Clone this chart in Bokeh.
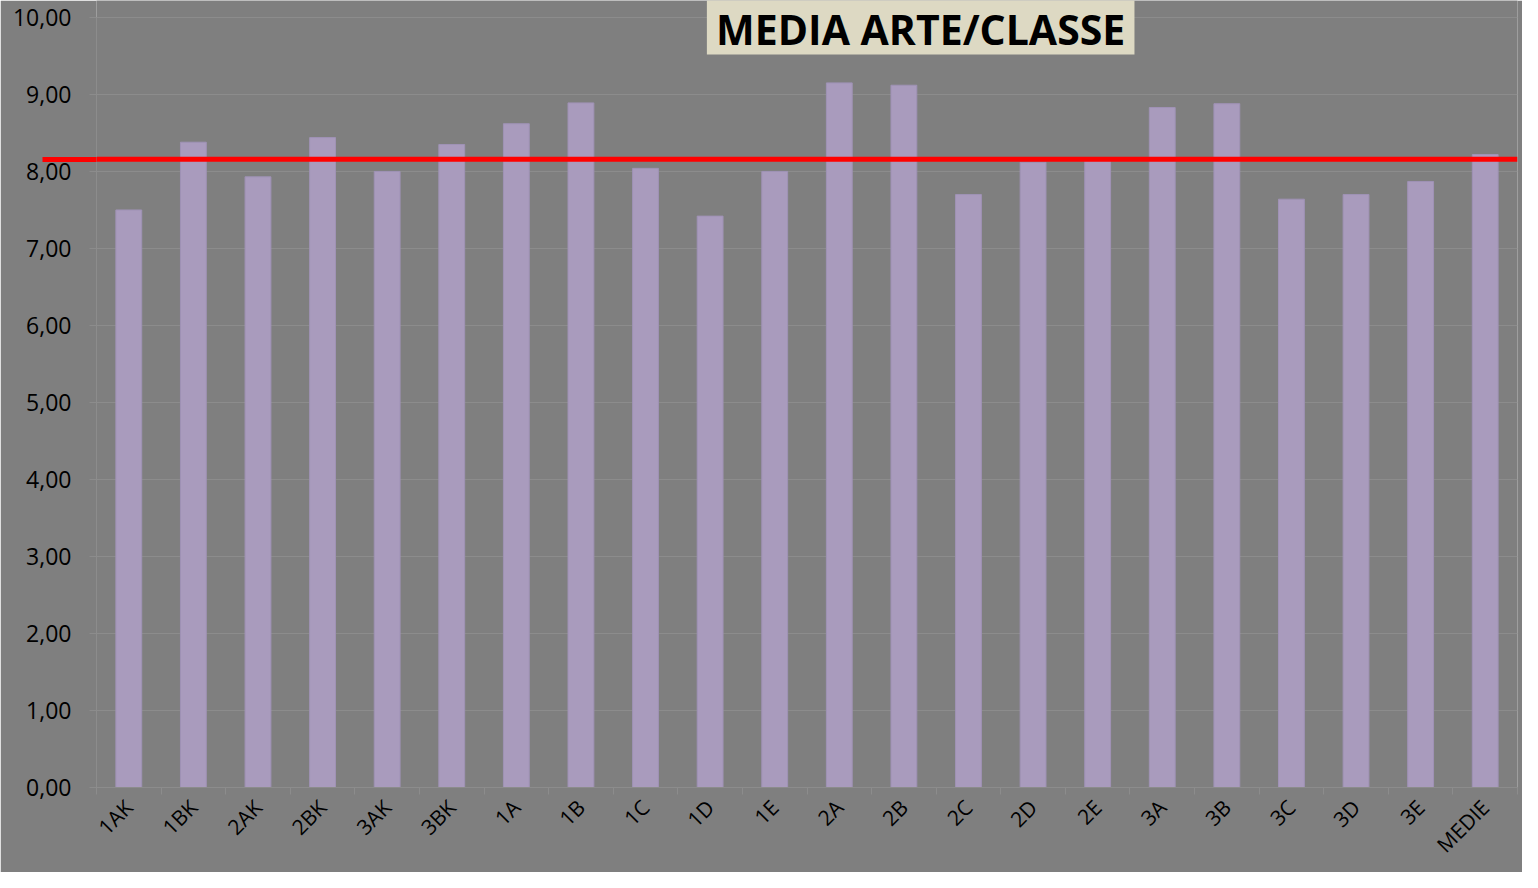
import numpy as np
from bokeh.plotting import figure
from bokeh.models import ColumnDataSource, FixedTicker, BoxAnnotation, Label, Range1d, Span
from bokeh.embed import file_html
from bokeh.resources import INLINE

# ---- data ----
CLASSI = ["1AK", "1BK", "2AK", "2BK", "3AK", "3BK", "1A", "1B", "1C", "1D", "1E",
          "2A", "2B", "2C", "2D", "2E", "3A", "3B", "3C", "3D", "3E", "MEDIE"]
MEDIE_ARTE = [7.50, 8.38, 7.93, 8.44, 8.00, 8.35, 8.62, 8.89, 8.04, 7.42, 8.00,
              9.15, 9.12, 7.70, 8.12, 8.14, 8.83, 8.88, 7.64, 7.70, 7.87, 8.22]
MEDIA_RIFERIMENTO = 8.16
Y_TICKS = [0, 1, 2, 3, 4, 5, 6, 7, 8, 9, 10]
Y_TICK_LABELS = ["0,00", "1,00", "2,00", "3,00", "4,00", "5,00",
                 "6,00", "7,00", "8,00", "9,00", "10,00"]
TITOLO = "MEDIA ARTE/CLASSE"

# ---- style ----
BG = "#7f7f7f"
GRID = "#8c8c8c"
BAR = "#a99bbd"
RED = "#ff0000"
FONT = "Open Sans"

n = len(CLASSI)
xpos = list(range(n))
src = ColumnDataSource(dict(x=xpos, top=MEDIE_ARTE, classe=CLASSI))

p = figure(width=1522, height=872,
           x_range=Range1d(-0.5, n - 0.5), y_range=Range1d(0, 10.22),
           output_backend="svg", toolbar_location=None,
           min_border_left=96, min_border_right=5, min_border_top=0, min_border_bottom=85,
           background_fill_color=BG, border_fill_color=BG, outline_line_color=None)

p.vbar(x="x", top="top", bottom=0, width=0.4, source=src,
       fill_color=BAR, line_color="#9f92b5", line_width=1)

# y axis (the red reference line continues to the left as a long minor tick)
yax = p.yaxis[0]
yax.ticker = FixedTicker(ticks=Y_TICKS, minor_ticks=[MEDIA_RIFERIMENTO])
yax.major_label_overrides = dict(zip(Y_TICKS, Y_TICK_LABELS))
yax.bounds = (0, 10)
yax.axis_line_color = GRID
yax.major_tick_line_color = GRID
yax.major_tick_out = 7
yax.major_tick_in = 0
yax.minor_tick_out = 54
yax.minor_tick_in = 0
yax.minor_tick_line_color = RED
yax.minor_tick_line_width = 5
yax.major_label_standoff = -29
yax.major_label_text_font = FONT
yax.major_label_text_font_size = "23px"
yax.major_label_text_color = "black"

# x axis
xax = p.xaxis[0]
xax.ticker = FixedTicker(ticks=xpos, minor_ticks=[i - 0.5 for i in range(n + 1)])
xax.major_label_overrides = {i: c for i, c in zip(xpos, CLASSI)}
xax.major_label_orientation = np.pi / 4
xax.major_tick_out = 0
xax.major_tick_in = 0
xax.minor_tick_out = 7
xax.minor_tick_in = 0
xax.minor_tick_line_color = GRID
xax.axis_line_color = GRID
xax.major_label_standoff = 9
xax.major_label_text_font = FONT
xax.major_label_text_font_size = "21px"
xax.major_label_text_color = "black"

p.xgrid.visible = False
p.ygrid.grid_line_color = GRID
p.ygrid.grid_line_width = 1

# reference line (average)
p.add_layout(Span(location=MEDIA_RIFERIMENTO, dimension="width",
                  line_color=RED, line_width=5, level="overlay"))

# title box
p.add_layout(BoxAnnotation(left=8.95, right=15.57, bottom=9.518, top=10.3,
                           fill_color="#ddd9c3", fill_alpha=1.0, line_color=None))
p.add_layout(Label(x=12.26, y=9.856, text=TITOLO, text_align="center",
                   text_baseline="alphabetic", text_font=FONT, text_font_style="bold",
                   text_font_size="41px", text_color="black"))

html = file_html(p, INLINE, title=TITOLO)
open("out.html", "w").write(html)
